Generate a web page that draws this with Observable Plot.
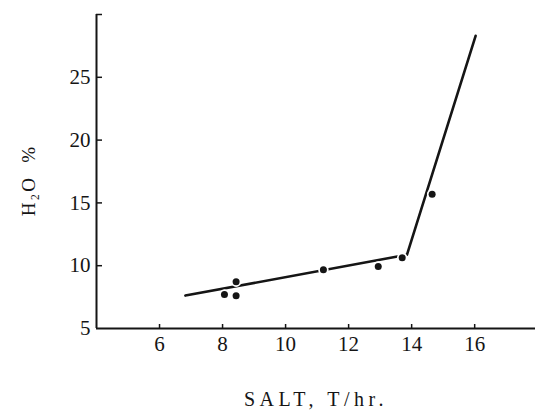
<!DOCTYPE html>
<html><head><meta charset="utf-8">
<script src="https://cdn.jsdelivr.net/npm/d3@7"></script>
<script src="https://cdn.jsdelivr.net/npm/@observablehq/plot@0.6"></script>
<style>body{margin:0;background:#fff} #chart svg{display:block}</style>
</head><body><div id="chart"></div>
<script>
const xDomain = [4, 17.93];
const yDomain = [5, 30];
const xTicks = [6, 8, 10, 12, 14, 16];
const yTicks = [10, 15, 20, 25, 30];
const yTickLabels = [5, 10, 15, 20, 25];
const pointSalt = [8.06, 8.43, 8.43, 11.2, 12.94, 13.7, 14.65];
const pointWater = [7.7, 8.73, 7.6, 9.68, 9.94, 10.63, 15.69];
const lineSalt = [6.82, 13.85, 16.03];
const lineWater = [7.62, 10.87, 28.3];
const xLabel = "SALT, T/hr.";
const yLabel = "H\u2082O\u00a0\u00a0%";

const points = pointSalt.map((x, i) => ({x, y: pointWater[i]}));
const fit = lineSalt.map((x, i) => ({x, y: lineWater[i]}));
const ink = "#151515";

const plot = Plot.plot({
  width: 535, height: 412,
  marginLeft: 96, marginRight: 0, marginTop: 14, marginBottom: 84,
  x: {domain: xDomain},
  y: {domain: yDomain},
  style: {fontFamily: "'Liberation Serif', 'DejaVu Serif', serif", color: ink, background: "#fff"},
  marks: [
    Plot.axisX(xTicks, {tickSize: -4, tickFormat: () => "", strokeWidth: 1.5, label: null}),
    Plot.axisX(xTicks, {tickSize: 0, tickPadding: 8, fontSize: 21, label: null}),
    Plot.axisY(yTicks, {tickSize: -6, tickFormat: () => "", strokeWidth: 1.5, label: null}),
    Plot.axisY(yTickLabels, {tickSize: 0, tickPadding: 6, fontSize: 21, label: null}),
    Plot.ruleX([xDomain[0]], {stroke: ink, strokeWidth: 2}),
    Plot.ruleY([yDomain[0]], {stroke: ink, strokeWidth: 2}),
    Plot.line(fit, {x: "x", y: "y", stroke: ink, strokeWidth: 2.6}),
    Plot.dot(points, {x: "x", y: "y", r: 3.5, fill: ink, stroke: "#fff", strokeWidth: 3.5, paintOrder: "stroke"}),
    Plot.text([xLabel], {frameAnchor: "bottom", dy: 71, fontSize: 20, fill: ink, lineAnchor: "middle", textAnchor: "middle"}),
    Plot.text([yLabel], {frameAnchor: "left", rotate: -90, dx: -68, dy: 9, fontSize: 19, fill: ink, textAnchor: "middle", lineAnchor: "middle"})
  ]
});
const svg = d3.select(plot);
svg.selectAll("text").filter(function() { return this.textContent === xLabel; }).attr("letter-spacing", "4.5px");
svg.selectAll("text").filter(function() { return this.textContent === yLabel; }).attr("letter-spacing", "2px");
document.getElementById("chart").append(plot);
</script>
</body></html>
